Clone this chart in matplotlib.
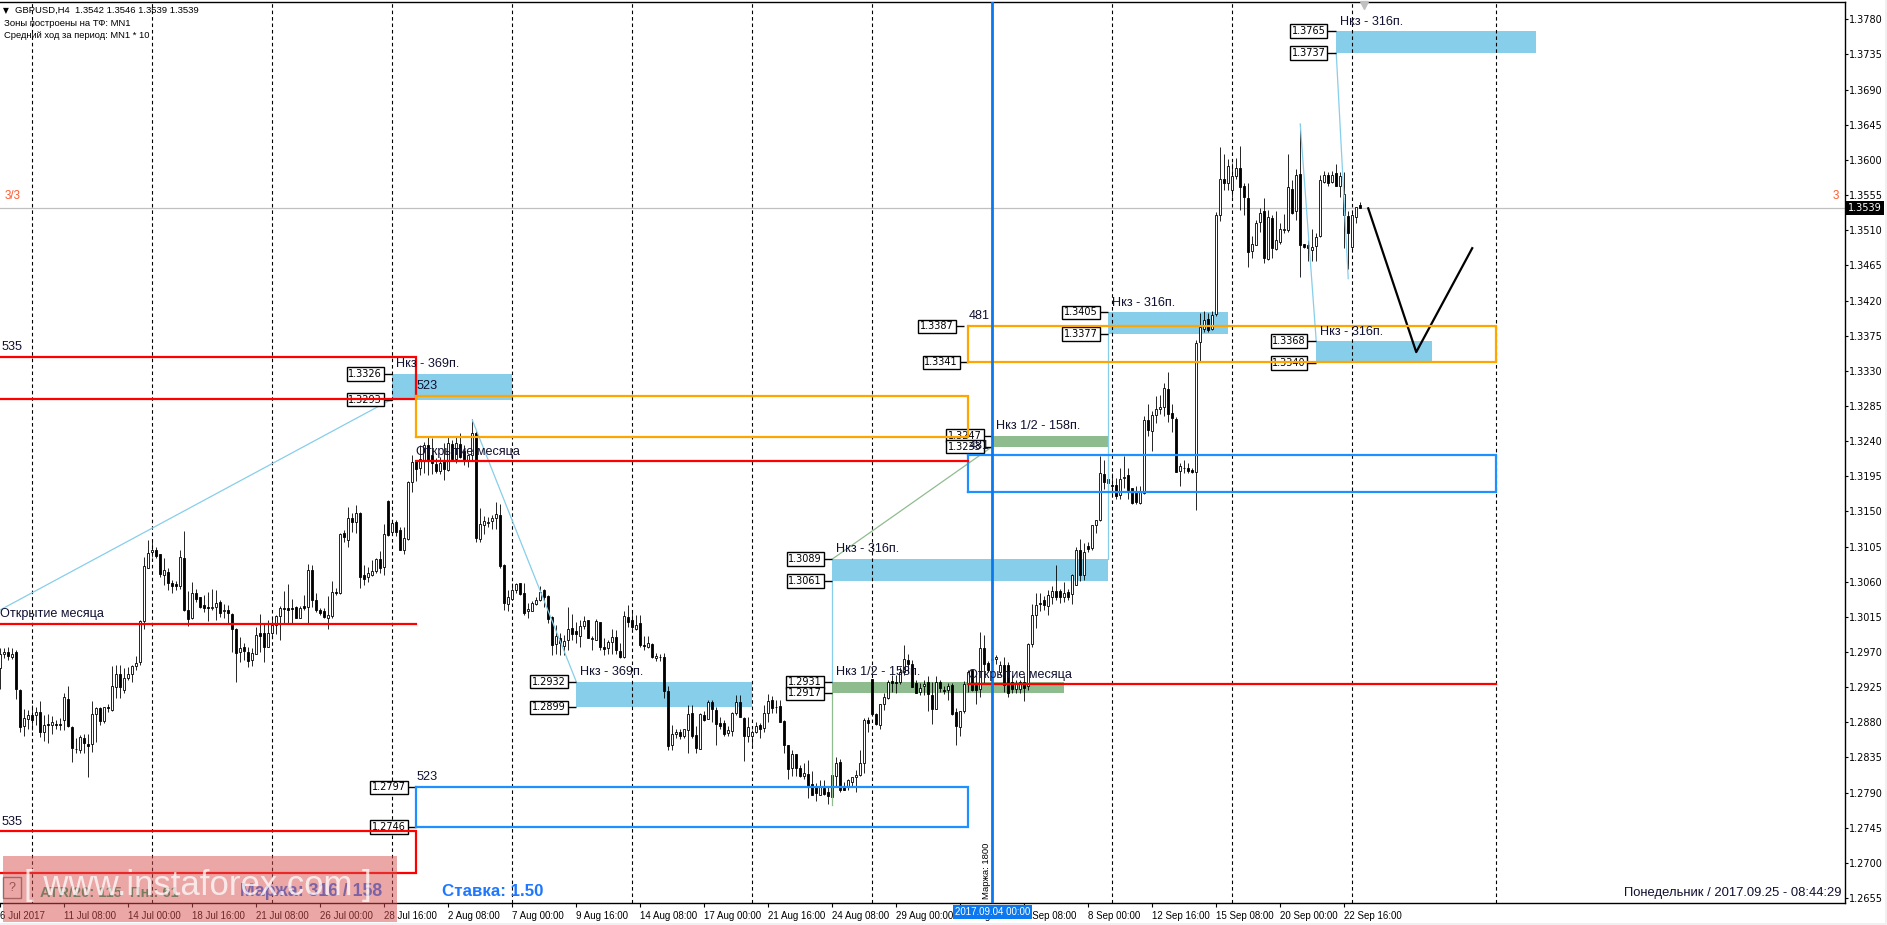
import matplotlib
matplotlib.use('Agg')
import matplotlib.pyplot as plt
from matplotlib.patches import Rectangle
import numpy as np

# --- GBPUSD H4 candles, prices in pips --- #
opens = [
    12949,12967,12970,12963,12970,12922,12875,12884,12889,12890,
    12893,12867,12878,12876,12878,12878,12883,12910,12874,12846,
    12845,12860,12852,12852,12891,12898,12882,12900,12896,12925,
    12942,12921,12937,12942,12952,12957,13010,13078,13098,13100,
    13095,13069,13073,13058,13057,13054,13091,13024,13013,13046,
    13040,13030,13028,13026,13028,13034,13022,13024,13019,13000,
    12970,12976,12970,12960,12968,12994,12994,12977,12994,13004,
    13016,13027,13027,13027,13028,13014,13029,13028,13075,13037,
    13024,13022,13014,13016,13047,13046,13122,13114,13142,13136,
    13148,13068,13066,13069,13074,13089,13079,13163,13124,13136,
    13126,13101,13115,13188,13214,13206,13214,13235,13222,13211,
    13202,13216,13203,13236,13217,13236,13227,13216,13222,13251,
    13115,13133,13135,13138,13141,13145,13082,13032,13038,13049,
    13058,13045,13022,13023,13032,13037,13049,13042,13015,12980,
    12988,12978,12985,13001,12997,12991,13003,13011,12987,12986,
    13009,12977,12975,12983,12989,12971,12964,13015,13011,13000,
    13007,12979,12977,12980,12962,12964,12964,12920,12851,12865,
    12868,12863,12870,12892,12864,12846,12890,12884,12906,12896,
    12879,12879,12866,12869,12892,12906,12886,12863,12862,12867,
    12877,12873,12892,12909,12900,12901,12882,12851,12821,12840,
    12821,12811,12814,12801,12798,12787,12796,12791,12785,12811,
    12829,12799,12798,12804,12810,12813,12828,12883,12935,12891,
    12877,12903,12911,12933,12932,12931,12944,12960,12955,12930,
    12919,12926,12931,12915,12897,12931,12922,12921,12928,12893,
    12874,12894,12929,12947,12928,12923,12975,12956,12960,12961,
    12945,12954,12953,12932,12923,12923,12932,12926,12980,13018,
    13033,13036,13029,13041,13048,13048,13041,13047,13044,13056,
    13100,13069,13106,13103,13133,13139,13198,13187,13184,13184,
    13171,13193,13196,13180,13175,13161,13174,13267,13253,13274,
    13281,13284,13307,13276,13268,13202,13206,13205,13203,13201,
    13367,13384,13396,13383,13403,13529,13576,13571,13562,13579,
    13590,13567,13551,13484,13491,13520,13534,13473,13526,13486,
    13495,13510,13510,13563,13534,13582,13492,13491,13485,13490,
    13502,13572,13581,13572,13583,13566,13529,13528,13489,13527,
    13542]
highs = [
    12975,12975,12976,12975,12972,12923,12897,12896,12902,12899,
    12907,12890,12891,12888,12883,12885,12917,12926,12875,12860,
    12864,12865,12865,12907,12900,12900,12900,12904,12952,12954,
    12953,12949,12951,12953,12965,13011,13092,13113,13113,13105,
    13096,13090,13078,13062,13061,13100,13125,13048,13060,13051,
    13041,13043,13047,13051,13049,13037,13031,13030,13020,13001,
    12989,12981,12977,12975,13002,13019,13006,13011,13015,13017,
    13029,13048,13057,13038,13029,13029,13043,13083,13081,13045,
    13026,13026,13042,13061,13052,13122,13126,13156,13148,13158,
    13149,13081,13079,13088,13090,13099,13134,13164,13139,13139,
    13130,13130,13189,13222,13216,13235,13239,13246,13244,13218,
    13220,13237,13246,13241,13246,13250,13235,13222,13268,13253,
    13154,13144,13143,13145,13162,13160,13083,13049,13058,13058,
    13059,13058,13033,13035,13040,13055,13051,13043,13016,13004,
    12994,12992,13028,13019,13009,13011,13016,13011,12990,13012,
    13009,12988,12986,13000,12998,12981,13022,13030,13024,13018,
    13017,12990,12990,12981,12969,12968,12969,12927,12877,12872,
    12872,12872,12902,12902,12875,12892,12894,12909,12909,12900,
    12887,12883,12875,12893,12915,12915,12887,12887,12870,12881,
    12879,12902,12916,12914,12909,12909,12883,12851,12845,12840,
    12825,12828,12832,12818,12802,12806,12806,12798,12813,12836,
    12833,12804,12808,12810,12819,12845,12885,12887,12935,12892,
    12904,12917,12934,12941,12941,12951,12979,12968,12960,12934,
    12930,12934,12939,12932,12939,12934,12926,12930,12930,12898,
    12895,12933,12947,12947,12941,12996,12992,12958,12962,12966,
    12959,12964,12957,12940,12934,12934,12940,12981,13032,13045,
    13045,13042,13049,13055,13081,13051,13060,13051,13070,13104,
    13115,13109,13111,13133,13139,13221,13216,13193,13199,13193,
    13205,13221,13205,13180,13182,13182,13272,13288,13278,13298,
    13299,13314,13329,13288,13271,13212,13216,13212,13205,13369,
    13404,13406,13404,13406,13533,13616,13608,13601,13596,13602,
    13618,13570,13570,13502,13523,13538,13551,13536,13529,13534,
    13519,13531,13607,13574,13589,13646,13492,13497,13512,13506,
    13581,13586,13585,13586,13595,13585,13585,13535,13533,13540,
    13546]
lows = [
    12923,12962,12960,12961,12910,12868,12863,12871,12870,12877,
    12861,12856,12854,12865,12872,12870,12870,12874,12829,12841,
    12841,12841,12810,12842,12855,12876,12879,12893,12895,12911,
    12911,12918,12934,12932,12947,12954,13000,13077,13092,13090,
    13066,13056,13050,13046,13049,13051,13023,13003,13012,13034,
    13026,13021,13010,13024,13011,13015,13014,13006,12970,12932,
    12957,12960,12951,12952,12967,12970,12957,12976,12990,12993,
    12986,13006,13006,13006,13013,13014,13024,13006,13028,13021,
    13017,13013,13000,13014,13043,13044,13111,13105,13124,13122,
    13052,13056,13060,13067,13071,13071,13069,13119,13120,13119,
    13100,13096,13113,13175,13189,13197,13199,13196,13198,13199,
    13198,13190,13202,13214,13212,13218,13210,13207,13216,13111,
    13111,13121,13130,13128,13128,13078,13024,13023,13037,13046,
    13043,13017,13013,13022,13030,13035,13028,13007,12966,12968,
    12966,12966,12973,12985,12981,12977,13000,12988,12973,12985,
    12973,12966,12968,12968,12968,12962,12962,13002,13000,12998,
    12977,12973,12975,12962,12958,12958,12911,12845,12845,12860,
    12859,12860,12841,12860,12841,12846,12882,12884,12880,12851,
    12872,12862,12863,12862,12890,12887,12831,12855,12851,12866,
    12860,12868,12881,12892,12892,12880,12841,12808,12811,12811,
    12810,12808,12783,12787,12779,12787,12787,12776,12783,12798,
    12791,12793,12793,12798,12791,12811,12815,12867,12890,12877,
    12872,12896,12910,12919,12917,12929,12941,12943,12925,12917,
    12915,12915,12895,12878,12897,12919,12916,12909,12889,12851,
    12862,12892,12919,12920,12904,12913,12929,12945,12953,12955,
    12941,12919,12913,12917,12917,12917,12907,12921,12977,13001,
    13022,13024,13017,13032,13037,13033,13034,13037,13032,13056,
    13061,13062,13098,13100,13122,13138,13179,13186,13168,13166,
    13166,13180,13166,13160,13160,13160,13172,13247,13227,13263,
    13275,13272,13265,13252,13201,13183,13199,13199,13199,13152,
    13343,13380,13380,13382,13400,13522,13561,13561,13553,13576,
    13536,13530,13463,13474,13491,13508,13468,13472,13474,13485,
    13493,13506,13508,13531,13523,13450,13487,13470,13470,13470,
    13501,13570,13566,13571,13566,13553,13487,13461,13485,13519,
    13539]
closes = [
    12968,12970,12965,12968,12923,12874,12886,12890,12883,12893,
    12868,12877,12877,12880,12876,12877,12912,12875,12847,12846,
    12861,12853,12850,12891,12898,12882,12899,12898,12927,12942,
    12925,12937,12942,12952,12956,13010,13080,13097,13100,13093,
    13070,13075,13059,13054,13054,13092,13024,13012,13045,13038,
    13028,13027,13026,13028,13033,13020,13024,13020,12999,12969,
    12975,12971,12958,12969,12992,12991,12977,12994,13004,13016,
    13026,13025,13024,13025,13014,13027,13027,13075,13036,13024,
    13020,13015,13017,13047,13045,13121,13117,13142,13137,13148,
    13066,13064,13071,13074,13089,13078,13121,13120,13135,13124,
    13101,13116,13188,13213,13204,13217,13235,13216,13212,13202,
    13212,13204,13237,13217,13237,13220,13216,13222,13251,13116,
    13134,13138,13137,13142,13147,13080,13033,13040,13049,13057,
    13044,13020,13025,13033,13037,13047,13040,13012,12979,12990,
    12981,12984,13000,12993,12993,13003,13010,12988,12988,13010,
    12976,12974,12983,12989,12972,12964,13016,13009,13002,13005,
    12979,12978,12981,12963,12965,12963,12920,12850,12865,12868,
    12863,12871,12891,12862,12847,12891,12883,12906,12897,12878,
    12875,12865,12870,12892,12906,12887,12862,12874,12868,12875,
    12872,12892,12907,12898,12899,12881,12851,12820,12840,12822,
    12811,12815,12798,12787,12789,12797,12788,12786,12813,12828,
    12794,12794,12806,12810,12813,12828,12883,12879,12891,12878,
    12904,12912,12932,12930,12930,12945,12961,12955,12925,12918,
    12924,12929,12916,12897,12932,12924,12920,12927,12891,12875,
    12894,12929,12945,12922,12921,12975,12955,12947,12961,12963,
    12953,12928,12918,12923,12930,12932,12924,12980,13018,13030,
    13031,13030,13043,13048,13041,13041,13045,13040,13069,13101,
    13069,13098,13102,13133,13139,13199,13188,13192,13183,13170,
    13192,13194,13178,13161,13162,13175,13267,13254,13273,13281,
    13284,13308,13275,13269,13201,13208,13206,13202,13200,13366,
    13386,13395,13382,13402,13529,13576,13570,13592,13579,13590,
    13565,13552,13482,13493,13519,13532,13474,13527,13487,13497,
    13511,13511,13565,13532,13581,13491,13489,13487,13489,13501,
    13574,13581,13571,13581,13567,13579,13557,13507,13529,13540,
    13539]

# --- Axes labels --- #
price_ticks = [1.2655,1.2700,1.2745,1.2790,1.2835,1.2880,1.2925,1.2970,1.3015,1.3060,1.3105,1.3150,1.3195,
               1.3240,1.3285,1.3330,1.3375,1.3420,1.3465,1.3510,1.3555,1.3600,1.3645,1.3690,1.3735,1.3780]
time_labels = ['6 Jul 2017','11 Jul 08:00','14 Jul 00:00','18 Jul 16:00','21 Jul 08:00','26 Jul 00:00',
               '28 Jul 16:00','2 Aug 08:00','7 Aug 00:00','9 Aug 16:00','14 Aug 08:00','17 Aug 00:00',
               '21 Aug 16:00','24 Aug 08:00','29 Aug 00:00','31 Aug 16:00','6 Sep 08:00','8 Sep 00:00',
               '12 Sep 16:00','15 Sep 08:00','20 Sep 00:00','22 Sep 16:00']
separators = [8,38,68,98,128,158,188,218,248,278,308,338,374]
last_price = 1.3539

# --- Zones: start bar, end bar, top, bottom --- #
blue_start = [98,144,208,277,329,334]
blue_end = [128,188,277,307,358,384]
blue_top = [1.3326,1.2932,1.3089,1.3405,1.3368,1.3765]
blue_bottom = [1.3293,1.2899,1.3061,1.3377,1.3340,1.3737]
green_start = [248,208]
green_end = [277,266]
green_top = [1.3247,1.2931]
green_bottom = [1.3233,1.2917]

# --- Outlined boxes --- #
box_start = [-2,-2,104,104,242,242]
box_end = [104,104,242,242,374,374]
box_top = [1.3348,1.2741,1.3298,1.2797,1.3387,1.3222]
box_bottom = [1.3294,1.2687,1.3245,1.2746,1.3341,1.3175]
box_color = ['#ff0000','#ff0000','#ffa500','#1e90ff','#ffa500','#1e90ff']

# --- Month open lines --- #
open_start = [-2,104,242]
open_end = [104,242,374]
open_price = [1.3006,1.3215,1.2929]

# --- Price tags --- #
tag_bar = [98,98,144,144,208,208,208,208,248,248,277,277,329,329,334,334,104,104,241,242]
tag_price = [1.3326,1.3293,1.2932,1.2899,1.3089,1.3061,1.2931,1.2917,1.3247,1.3233,
             1.3405,1.3377,1.3368,1.3340,1.3765,1.3737,1.2797,1.2746,1.3387,1.3341]

# --- Chart notes --- #
note_text = ['535','535','523','523','481','481','Открытие месяца','Открытие месяца','Открытие месяца',
             'Нкз - 369п.','Нкз - 369п.','Нкз - 316п.','Нкз - 316п.','Нкз - 316п.','Нкз - 316п.',
             'Нкз 1/2 - 158п.','Нкз 1/2 - 158п.']
note_bar = [0.2,0.2,104,104,242,242,0,104,242,99,145,209,278,330,335,249,209]
note_price = [1.3360,1.2753,1.3310,1.2810,1.3400,1.3234,1.3019,1.3226,1.2940,
              1.3339,1.2945,1.3102,1.3417,1.3380,1.3777,1.3260,1.2944]

# --- Trend lines --- #
sky_lines = [([0,98],[1.3024,1.3294]),([118,144],[1.3267,1.2932]),([208,208],[1.3061,1.2931]),
             ([277,277],[1.3377,1.3089]),([325,329],[1.3646,1.3368]),([334,337],[1.3737,1.3448])]
green_lines = [([208,248],[1.3089,1.3233]),([208,208],[1.2917,1.2774])]
forecast_bars = [342,354,368]
forecast_prices = [1.3538,1.3354,1.3487]

W = 1887
H = 925
BG_GREY = '#f0f0f0'
SKY = '#87ceeb'
SEA = '#8fbc8f'
TXT = 'Liberation Sans'

def to_x(px):
    return px / W

def to_y(px):
    return 1 - px / H

def add_tag(ax, bar, price):
    """Draws a small price box to the left of a zone, with its tick."""
    ax.plot([bar - 2.5, bar], [price, price], color='black', lw=1, zorder=4, solid_capstyle='butt')
    ax.text(bar - 2.6, price, f'{price:.4f}', ha='right', va='center', fontsize=7, family='DejaVu Sans', zorder=4,
            bbox=dict(boxstyle='square,pad=0.17', fc='white', ec='black', lw=1))

def main():
    fig = plt.figure(figsize=(W / 100, H / 100), dpi=100, facecolor='white')
    ax = fig.add_axes([0, 1 - 903 / H, 1845 / W, (903 - 2.3) / H])
    ax.set_facecolor('white')
    ax.set_xlim(-0.0825, 461.2)
    ax.set_ylim(1.26487, 1.38018)

    # window edges
    fig.add_artist(Rectangle((0, 0), 1, 2.5 / H, transform=fig.transFigure, fc=BG_GREY, ec='none', zorder=-1))
    fig.add_artist(Rectangle((1 - 2.5 / W, 0), 2.5 / W, 1, transform=fig.transFigure, fc=BG_GREY, ec='none', zorder=-1))

    # --- Zones --- #
    for s, e, t, b in zip(blue_start, blue_end, blue_top, blue_bottom):
        ax.add_patch(Rectangle((s, b), e - s, t - b, fc=SKY, ec='none', zorder=1))
    for s, e, t, b in zip(green_start, green_end, green_top, green_bottom):
        ax.add_patch(Rectangle((s, b), e - s, t - b, fc=SEA, ec='none', zorder=1))

    # --- Grid-like lines --- #
    ax.axhline(last_price, color='#c0c0c0', lw=0.9, zorder=1.2)
    for sep in separators[:8] + separators[9:]:
        ax.axvline(sep, color='black', lw=0.8, ls=(0, (3.2, 2.6)), zorder=1.5)

    # --- Candles --- #
    x = np.arange(len(opens))
    o = np.array(opens) / 10000
    h = np.array(highs) / 10000
    l = np.array(lows) / 10000
    c = np.array(closes) / 10000
    ax.vlines(x, l, h, color='black', lw=0.6, zorder=3)
    body_color = ['white' if cl > op else 'black' for op, cl in zip(o, c)]
    ax.bar(x, c - o, bottom=o, width=0.52, color=body_color, edgecolor='black', linewidth=0.6, zorder=3.1)

    # --- Trend lines --- #
    for bars, prices in sky_lines:
        ax.plot(bars, prices, color=SKY, lw=0.9, zorder=3.5)
    for bars, prices in green_lines:
        ax.plot(bars, prices, color=SEA, lw=0.9, zorder=3.5)
    ax.plot(forecast_bars, forecast_prices, color='black', lw=1.6, zorder=3.6)

    # --- Price tags --- #
    for bar, price in zip(tag_bar, tag_price):
        add_tag(ax, bar, price)

    # --- Boxes and month lines --- #
    for s, e, t, b, col in zip(box_start, box_end, box_top, box_bottom, box_color):
        ax.plot([s, e, e, s], [t, t, b, b], color=col, lw=1.6, zorder=5, solid_joinstyle='miter')
        if s >= 0:
            ax.plot([s, s], [t, b], color=col, lw=1.6, zorder=5)
    for s, e, p in zip(open_start, open_end, open_price):
        ax.plot([s, e], [p, p], color='#ff0000', lw=1.6, zorder=5)
    ax.axvline(248, color='#0a78f0', lw=2, zorder=5)

    # --- Notes --- #
    for txt, bar, price in zip(note_text, note_bar, note_price):
        ax.text(bar, price, txt, ha='left', va='center', fontsize=9.1, family=TXT, color='#101030', zorder=6)
    ax.text(985.8 / 4, 1.2690, 'Маржа: 1800', rotation=90, ha='center', va='center', fontsize=6.8, family=TXT, zorder=6)
    ax.plot([340.9], [1.38018 - 0.0004], marker='v', ms=6, color='#c0c0c0', clip_on=False, zorder=6)

    # --- Axes --- #
    ax.spines['left'].set_visible(False)
    for side in ['top', 'right', 'bottom']:
        ax.spines[side].set_linewidth(1)
    ax.yaxis.tick_right()
    ax.set_yticks(price_ticks, labels=[f'{p:.4f}' for p in price_ticks])
    ax.set_xticks(np.arange(len(time_labels)) * 16, labels=time_labels)
    ax.tick_params(axis='y', length=2.5, width=0.8, pad=0.2, labelsize=7, labelfontfamily='DejaVu Sans')
    ax.tick_params(axis='x', length=3, width=0.8, pad=2.5, labelsize=7, labelfontfamily=TXT)
    for lab in ax.get_xticklabels():
        lab.set_ha('left')

    # highlighted time and price boxes
    ax.text(248, 1.26487 - 0.0012, '2017.09.04 00:00', color='white', ha='center', va='center', fontsize=7,
            family=TXT, zorder=10, clip_on=False, bbox=dict(boxstyle='square,pad=0.2', fc='#0a78f0', ec='none'))
    ax.text(1.0 + 3 / 1845, last_price, f'{last_price:.4f}', color='white', ha='left', va='center', fontsize=7,
            family='DejaVu Sans', transform=ax.get_yaxis_transform(), zorder=10, clip_on=False,
            bbox=dict(boxstyle='square,pad=0.2', fc='black', ec='none'))

    # --- Text on the window --- #
    fig.text(to_x(3), to_y(10.8), '▼', fontsize=5.5, family='DejaVu Sans', va='center', zorder=5)
    fig.text(to_x(15), to_y(10.7), 'GBPUSD,H4  1.3542 1.3546 1.3539 1.3539', fontsize=6.8, family=TXT, va='center', zorder=5)
    fig.text(to_x(4), to_y(23.3), 'Зоны построены на ТФ: MN1', fontsize=6.8, family=TXT, va='center', zorder=5)
    fig.text(to_x(4), to_y(35.7), 'Средний ход за период: MN1 * 10', fontsize=6.75, family=TXT, va='center', zorder=5)
    fig.text(to_x(5), to_y(195.7), '3/3', color='#ff5a30', fontsize=8.4, family=TXT, va='center', zorder=5)
    fig.text(to_x(1839), to_y(195.7), '3', color='#ff5a30', fontsize=8.4, family=TXT, ha='right', va='center', zorder=5)
    fig.text(to_x(1841), to_y(892.7), 'Понедельник / 2017.09.25 - 08:44:29', color='#101030', fontsize=9.4,
             family=TXT, ha='right', va='center', zorder=5)

    # --- Panel and watermark --- #
    fig.add_artist(Rectangle((to_x(3), to_y(898)), 18 / W, 21 / H, transform=fig.transFigure, fc='none', ec='#777777', lw=1, zorder=5))
    fig.text(to_x(12), to_y(888), '?', color='#555555', fontsize=9, family=TXT, ha='center', va='center', zorder=5)
    fig.text(to_x(40), to_y(892.7), 'ATR/20: 115  Пн.: 61', color='#20a870', fontsize=10.5, weight='bold', family=TXT, va='center', zorder=5)
    fig.text(to_x(240), to_y(891.7), 'Маржа: 316 / 158', color='#1e78ff', fontsize=12.7, weight='bold', family=TXT, va='center', zorder=5)
    fig.text(to_x(442), to_y(891.7), 'Ставка: 1.50', color='#1e78ff', fontsize=12.2, weight='bold', family=TXT, va='center', zorder=5)
    fig.add_artist(Rectangle((to_x(3), to_y(922)), 394 / W, 66 / H, transform=fig.transFigure, fc='#d94f4f', ec='none', alpha=0.5, zorder=8))
    fig.text(to_x(24), to_y(886), '[ www.instaforex.com ]', color='white', alpha=0.75, fontsize=25, family=TXT, va='center', zorder=9)

    fig.savefig('out.png', dpi=100)

if __name__ == "__main__":
    main()
